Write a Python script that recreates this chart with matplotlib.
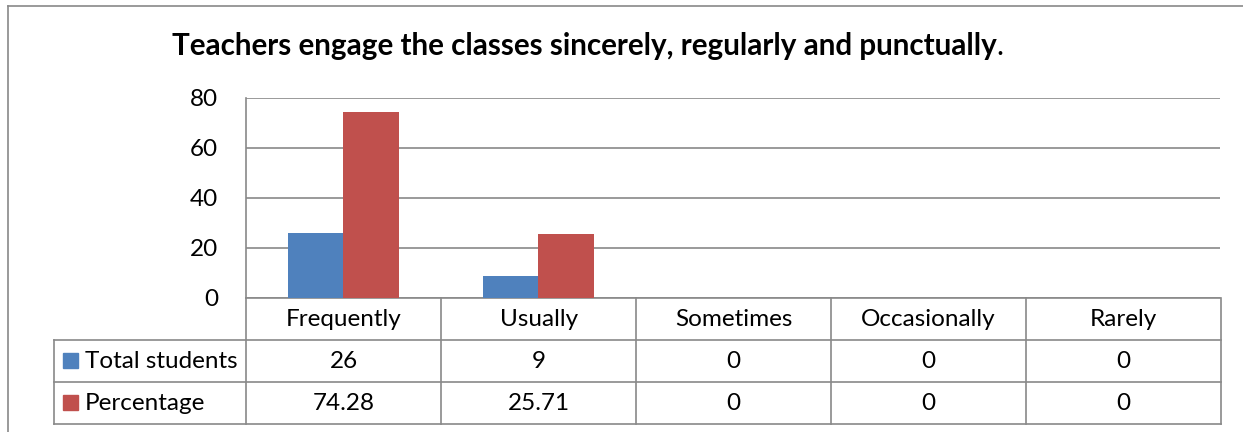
import matplotlib.pyplot as plt
from matplotlib.lines import Line2D
from matplotlib.patches import Rectangle

plt.rcParams['font.family'] = ['Lato', 'DejaVu Sans']

# datos
categorias = ["Frequently", "Usually", "Sometimes", "Occasionally", "Rarely"]
series = ["Total students", "Percentage"]
total_students = [26, 9, 0, 0, 0]
percentage = [74.28, 25.71, 0, 0, 0]
colores = ["#4F81BD", "#C0504D"]
titulo = "Teachers engage the classes sincerely, regularly and punctually"

W, H = 1243, 432
fig = plt.figure(figsize=(W / 100, H / 100), dpi=100)


def caja(x0, y0, x1, y1):
    # pixeles (origen arriba a la izquierda) -> fraccion de figura
    return [x0 / W, 1 - y1 / H, (x1 - x0) / W, (y1 - y0) / H]


gris = "#898989"
fs = 17.5

# marco exterior del grafico
fig.add_artist(Line2D([8 / W, 8 / W], [0, 1 - 6 / H], color=gris, lw=1.2))
fig.add_artist(Line2D([8 / W, 1], [1 - 6 / H, 1 - 6 / H], color=gris, lw=1.2))

# area de barras
ax = fig.add_axes(caja(246, 98, 1220, 298))
n = len(categorias)
x = list(range(n))
ancho = 1 / 3.5
ax.bar([i - ancho / 2 for i in x], total_students, ancho, color=colores[0], zorder=3)
ax.bar([i + ancho / 2 for i in x], percentage, ancho, color=colores[1], zorder=3)
ax.set_xlim(-0.5, n - 0.5)
ax.set_ylim(0, 80)
ax.set_yticks(range(0, 81, 20))
ax.set_xticks([])
ax.tick_params(axis="y", length=0, pad=20, labelsize=fs)
ax.grid(axis="y", color=gris, lw=1.2, zorder=0)
for s in ["top", "right"]:
    ax.spines[s].set_visible(False)
for s in ["left", "bottom"]:
    ax.spines[s].set_color(gris)
    ax.spines[s].set_linewidth(1.2)

# titulo (el punto final no va en negrita)
t = fig.text(172 / W, 1 - 46 / H, titulo, fontsize=21.3, fontweight="bold", va="center", ha="left")
fig.canvas.draw()
bb = t.get_window_extent()
fig.text(bb.x1 / W, 1 - 46 / H, ".", fontsize=21.3, va="center", ha="left")

# tabla de datos
leyenda_px = 246 - 54
cat_px = (1220 - 246) / n
tx = fig.add_axes(caja(54, 298, 1221, 424))
tx.set_xlim(-0.5 - leyenda_px / cat_px, n - 0.5)
tx.set_ylim(3, 0)
tx.axis("off")
izq = -0.5 - leyenda_px / cat_px

kw = dict(color=gris, lw=1.2, clip_on=False)
for b in [k - 0.5 for k in range(n + 1)]:
    tx.plot([b, b], [0, 3], **kw)
tx.plot([izq, izq], [1, 3], **kw)
for r in [1, 2, 3]:
    tx.plot([izq, n - 0.5], [r, r], **kw)

for i, c in enumerate(categorias):
    tx.text(i, 0.52, c, ha="center", va="center", fontsize=fs)

for r, (nombre, vals) in enumerate(zip(series, [total_students, percentage])):
    y = r + 1.5
    tx.add_patch(Rectangle((izq + 9 / cat_px, y - 0.19), 15 / cat_px, 0.36,
                           color=colores[r], clip_on=False))
    tx.text(izq + 31 / cat_px, y + 0.02, nombre, ha="left", va="center", fontsize=fs)
    for i, v in enumerate(vals):
        tx.text(i, y + 0.02, f"{v:g}", ha="center", va="center", fontsize=fs)

fig.savefig("out.png", dpi=100)
